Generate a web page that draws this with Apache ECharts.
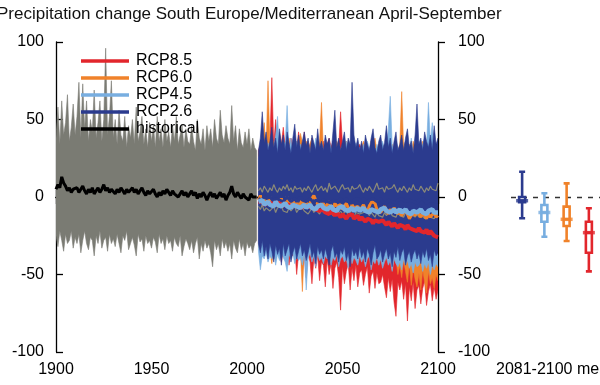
<!DOCTYPE html>
<html>
<head>
<meta charset="utf-8">
<script src="https://cdn.jsdelivr.net/npm/echarts@6/dist/echarts.min.js"></script>
<style>html,body{margin:0;padding:0;background:#fff}#c{width:600px;height:385px}</style>
</head>
<body>
<div id="c"></div>
<script>
// ---------- DATA ----------
const titleText = 'Precipitation change South Europe/Mediterranean April-September';
const xTicks = [1900, 1950, 2000, 2050, 2100];
const yTicks = [-100, -50, 0, 50, 100];
const histStart = 1900, histEnd = 2005, futStart = 2006, futEnd = 2100;

// historical ensemble envelope (max / min of models) and mean, 1900-2005
const histHi = [38,58,34,62,40,48,66,36,45,60, 40,52,74,38,73,44,62,36,50,42, 69,38,48,62,36,50,96,40,52,75,
  38,50,34,56,40,36,52,32,46,38, 50,34,58,36,42,52,34,44,32,48, 36,46,32,52,36,44,32,50,36,42,
  32,46,36,52,34,40,46,32,44,36, 34,46,36,30,50,38,34,44,30,46, 36,44,32,50,38,34,56,40,35,46,
  38,34,59,36,46,30,44,35,32,42, 34,44,30,38,32,30];
const histLo = [-25,-32,-22,-28,-35,-24,-30,-28,-22,-33, -26,-30,-24,-36,-28,-22,-30,-34,-26,-28,
  -38,-25,-30,-22,-33,-28,-26,-35,-24,-30, -27,-32,-24,-30,-36,-25,-28,-22,-34,-30,
  -26,-31,-38,-24,-29,-27,-35,-25,-30,-28, -33,-26,-29,-36,-24,-30,-27,-34,-25,-30,
  -28,-35,-26,-30,-32,-25,-38,-32,-27,-30, -34,-28,-36,-30,-26,-40,-30,-35,-28,-33,
  -30,-36,-45,-28,-34,-30,-38,-27,-33,-29, -35,-30,-40,-28,-33,-36,-27,-34,-30,-38,
  -29,-33,-31,-36,-30,-28];
const histMean = [5,8,6,13,9,7,4,6,3,5, 4,6,3,5,7,4,2,5,3,6, 2,4,6,3,5,8,4,6,3,5, 4,2,5,3,6,4,2,5,3,4,
  6,3,5,2,4,6,3,1,4,2, 3,5,2,0,3,1,4,2,5,3, 1,4,2,3,0,2,4,1,3,0, 2,4,1,3,-1,2,0,3,1,-2,
  1,3,0,2,-1,1,3,0,2,-2, 1,3,7,2,0,3,1,-1,2,0, 1,-2,2,0,1,0];

// scenario ensemble envelopes and means, 2006-2100
const rcp26Hi = [30,38,55,35, 42,30,36,45,32,38,28,44,34,40, 30,42,35,28,38,47,32,40,30,36, 42,33,38,28,40,35,30,44,32,36,
  30,40,34,38,28,42,56,32,38,30, 36,42,30,38,34,74,40,32,38,30, 36,28,40,34,30,38,44,32,28,36,
  40,30,35,46,32,38,28,36,42,30, 34,40,30,38,44,32,36,28,40,60, 34,38,30,42,36,32,40,30,46,34, 38];
const rcp26Lo = [-30,-36,-28,-38, -32,-40,-30,-35,-42,-31,-37,-33,-44,-30, -38,-34,-30,-42,-36,-32,-40,-35,-30,-38,
  -34,-41,-36,-30,-39,-35,-43,-32,-37,-34, -40,-33,-38,-44,-35,-31,-39,-36,-42,-34, -37,-32,-41,-36,-45,-33,-38,-35,-40,-32,
  -39,-35,-42,-33,-37,-44,-36,-31,-40,-38, -34,-42,-37,-33,-40,-36,-45,-35,-39,-32, -41,-36,-33,-44,-38,-35,-42,-37,-34,-40,
  -36,-43,-35,-39,-33,-41,-37,-45,-34,-38, -36];
const rcp45Hi = [25,30,28,32, 28,35,30,26,32,40,52,30,28,36, 34,59,30,38,28,32,36,30,34,28, 32,30,36,28,34,30,38,32,28,35,
  30,34,28,36,32,30,35,28,34,30, 33,28,36,30,34,40,30,35,28,32, 30,34,28,36,32,30,38,28,34,30,
  32,36,30,28,44,65,34,30,36,32, 30,34,28,36,32,30,38,28,34,32, 36,30,34,38,32,61,36,48,30,34, 32];
const rcp45Lo = [-35,-47,-38,-40, -36,-42,-38,-40,-35,-44,-37,-41,-36,-39, -42,-48,-37,-40,-36,-43,-38,-41,-39,-44,
  -37,-60,-40,-36,-42,-38,-45,-37,-41,-39, -43,-38,-40,-36,-44,-39,-41,-37,-45,-40, -38,-42,-40,-46,-37,-43,-39,-41,-44,-38,
  -42,-39,-45,-40,-38,-47,-41,-43,-39,-44, -40,-46,-42,-39,-44,-41,-48,-40,-43,-45, -42,-47,-40,-44,-41,-46,-43,-49,-42,-45,
  -44,-41,-48,-43,-46,-42,-50,-44,-47,-43, -45];
const rcp60Hi = [28,32,30,48, 30,75,34,28,36,32,30,42,34,30, 36,32,38,30,34,28,36,32,41,35, 32,36,30,34,38,30,34,32,36,61,
  30,34,32,36,30,34,28,36,32,30, 34,30,36,32,30,35,32,28,34,30, 32,36,30,34,28,36,32,38,30,34,
  30,34,32,28,36,30,34,32,36,30, 34,68,32,36,30,34,28,36,32,30, 34,30,36,32,28,34,30,36,32,30, 34];
const rcp60Lo = [-32,-36,-30,-37, -33,-38,-35,-43,-32,-40,-34,-37,-33,-36, -38,-44,-34,-37,-33,-40,-35,-38,-36,-61,
  -34,-45,-37,-33,-39,-35,-42,-34,-38,-36, -40,-35,-37,-34,-41,-36,-38,-34,-42,-37, -35,-39,-37,-43,-34,-40,-36,-38,-41,-35,
  -39,-36,-42,-37,-35,-44,-38,-40,-36,-41, -37,-43,-39,-36,-41,-38,-47,-37,-40,-50, -44,-52,-41,-48,-55,-43,-57,-46,-53,-58,
  -49,-60,-47,-55,-62,-48,-56,-52,-59,-50, -54];
const rcp85Hi = [30,34,32,38, 34,32,36,77,34,50,32,38,34,45, 32,36,30,38,34,36,30,42,34,32, 42,30,36,32,38,30,34,36,30,34,
  36,30,34,38,32,36,30,34,32,55, 34,30,36,32,30,34,28,32,30,34, 30,34,28,32,30,26,32,28,30,34,
  28,32,30,26,30,28,32,30,26,30, 28,30,26,32,28,30,26,28,32,26, 28,30,26,28,32,26,28,30,26,28, 26];
const rcp85Lo = [-30,-34,-28,-36, -32,-38,-30,-35,-40,-33,-37,-31,-42,-34, -36,-32,-44,-35,-38,-33,-50,-37,-34,-48,
  -38,-52,-36,-42,-56,-40,-46,-38,-54,-42, -44,-58,-40,-50,-43,-59,-46,-42,-52,-73, -45,-56,-48,-43,-60,-46,-54,-44,-58,-49,
  -47,-57,-50,-45,-62,-51,-48,-59,-49,-56, -55,-50,-58,-65,-52,-61,-53,-68,-77,-55, -60,-54,-66,-56,-80,-58,-67,-55,-72,-60,
  -57,-69,-59,-54,-70,-61,-56,-67,-58,-66, -60];
const rcp26Mean = [-1,0,-2,1, -1,-2,0,-1,-3,-1,0,-2,-1,-3, -2,0,-1,-3,-2,-1,-3,-2,0,-2, -1,-3,-2,-1,-2,-4,-2,-1,-3,-2,
  -2,-1,-3,-2,-4,-2,-1,-3,-2,-1, -3,-2,-1,-3,-2,-4,-2,-3,-1,-2, -3,-1,-2,-4,-2,-3,-1,-2,-3,-2,
  -1,-3,-2,-4,-2,-1,-3,-2,-4,-2, -3,-1,-2,-3,-4,-2,-1,-3,-2,-4, -2,-3,-1,-2,-4,-3,-2,-1,-3,-2, -3];
const rcp45Mean = [-3,-4,-2,-5, -4,-3,-5,-4,-6,-3,-5,-4,-6,-5, -4,-6,-5,-7,-5,-4,-6,-5,-7,-6, -5,-7,-6,-5,-7,-6,-8,-6,-7,-5,
  -7,-6,-8,-7,-6,-8,-7,-9,-7,-8, -6,-8,-7,-9,-8,-7,-9,-8,-7,-9, -8,-7,-9,-8,-10,-8,-7,-9,-8,-10,
  -8,-9,-7,-9,-8,-10,-9,-8,-10,-9, -8,-10,-9,-8,-10,-9,-11,-9,-8,-10, -9,-8,-10,-9,-11,-9,-10,-8,-10,-9, -10];
const rcp60Mean = [-2,1,-3,-1, -4,-2,0,-5,-3,-6,-2,-4,-1,-5, -3,0,-4,-6,-2,-5,-3,-7,-4,-2, -5,-3,-6,-4,-1,1,-2,-5,-3,-6,
  -4,-7,-5,-3,-6,-8,-4,-6,-7,-5, -8,-6,-4,-7,-9,-5,-7,-8,-6,-9, -7,-5,-8,-10,-6,-3,-2,-4,-8,-9,
  -10,-8,-6,-9,-11,-8,-10,-7,-9,-11, -9,-12,-10,-8,-11,-14,-13,-10,-12,-9, -11,-13,-10,-12,-14,-11,-13,-12,-10,-13, -12];
const rcp85Mean = [-3,-4,-3,-5, -4,-4,-5,-4,-6,-4,-5,-4,-6,-5, -5,-6,-5,-7,-5,-5,-6,-6,-7,-6, -6,-7,-6,-6,-7,-7,-8,-8,-9,-9,
  -8,-10,-9,-11,-9,-10,-12,-10,-11,-13, -11,-12,-14,-12,-13,-11,-14,-13,-12,-15, -13,-14,-16,-14,-13,-15,-17,-15,-14,-16,
  -17,-15,-16,-18,-16,-17,-19,-17,-18,-20, -18,-17,-19,-21,-18,-20,-19,-21,-20,-22, -20,-22,-21,-23,-21,-24,-22,-23,-25,-24, -26];
// thin grey reference lines in the projection period
const futGreyUpper = [4,6,3,7, 5,3,6,4,8,5,3,6,4,7, 5,8,4,6,3,7,5,4,6,3, 6,4,7,5,3,6,8,4,5,7, 4,6,3,9,5,4,7,5,3,6,
  8,5,4,6,3,7,5,4,6,8, 5,3,6,4,7,5,3,6,9,5, 4,6,3,7,5,4,6,8,5,3, 6,4,7,5,3,6,4,8,5,6, 4,7,5,3,6,4,7,5,6,4, 9];
const futGreyLower = [-6,-8,-5,-9, -7,-6,-9,-8,-6,-10,-7,-8,-6,-9, -8,-10,-7,-9,-8,-6,-10,-8,-9,-7, -9,-8,-11,-9,-7,-10,-8,-9,-11,-8,
  -10,-9,-11,-8,-10,-12,-9,-10,-11,-9, -11,-10,-9,-12,-10,-11,-13,-10,-9,-11, -12,-10,-11,-9,-12,-10,-11,-13,-10,-12,
  -11,-13,-10,-12,-11,-9,-12,-11,-13,-10, -12,-11,-13,-10,-12,-14,-11,-12,-13,-11, -13,-11,-12,-14,-12,-11,-13,-12,-14,-12, -13];

// 2081-2100 mean change: [min, Q1, median, Q3, max]
const boxScenarios = ['RCP2.6', 'RCP4.5', 'RCP6.0', 'RCP8.5'];
const boxStats = [
  [-13.7, -3.4, -2.4, 0, 16.3],
  [-25.6, -16, -10, -5.2, 2.4],
  [-28.4, -18.7, -14.4, -6.2, 8.8],
  [-48, -36, -23, -16, -7.3]
];

// ---------- STYLE ----------
const C = {
  hist: '#7a7b73', black: '#000000',
  'RCP2.6': '#2b3b8e', 'RCP4.5': '#78aee0', 'RCP6.0': '#f0822a', 'RCP8.5': '#e2262c'
};
const FONT = 'Liberation Sans, Arial, Helvetica, sans-serif';

function range(a, b) { const r = []; for (let y = a; y <= b; y++) r.push(y); return r; }
const yearsHist = range(histStart, histEnd);
const yearsFut = range(futStart, futEnd);

function band(name, yrs, lo, hi, color, z) {
  return {
    type: 'custom', name: name, xAxisIndex: 0, yAxisIndex: 0, z: z, silent: true, clip: true,
    data: yrs.map((y, i) => [y, lo[i], hi[i]]),
    encode: { x: 0, y: [1, 2] },
    renderItem: function (params, api) {
      if (params.dataIndex !== 0) return null;
      const pts = [];
      for (let i = 0; i < yrs.length; i++) pts.push(api.coord([yrs[i], hi[i]]));
      for (let i = yrs.length - 1; i >= 0; i--) pts.push(api.coord([yrs[i], lo[i]]));
      return { type: 'polygon', shape: { points: pts }, style: { fill: color, stroke: color, lineWidth: 0.6 } };
    }
  };
}
function line(name, yrs, vals, color, width, z) {
  return {
    type: 'line', name: name, xAxisIndex: 0, yAxisIndex: 0, z: z, silent: true,
    data: yrs.map((y, i) => [y, vals[i]]), showSymbol: false, symbol: 'none',
    lineStyle: { color: color, width: width }, itemStyle: { color: color }, animation: false
  };
}

const axisCommon = {
  min: yTicks[0], max: yTicks[yTicks.length - 1], interval: 50,
  axisLine: { show: true, lineStyle: { color: '#000', width: 1.3 } },
  splitLine: { show: false }
};

const series = [
  band('hist models', yearsHist, histLo, histHi, C.hist, 1),
  band('rcp85 models', yearsFut, rcp85Lo, rcp85Hi, C['RCP8.5'], 2),
  band('rcp60 models', yearsFut, rcp60Lo, rcp60Hi, C['RCP6.0'], 3),
  band('rcp45 models', yearsFut, rcp45Lo, rcp45Hi, C['RCP4.5'], 4),
  band('rcp26 models', yearsFut, rcp26Lo, rcp26Hi, C['RCP2.6'], 5),
  line('grey upper', yearsFut, futGreyUpper, '#8c8a78', 1.2, 6),
  line('grey lower', yearsFut, futGreyLower, '#8c8a78', 1.2, 6),
  line('RCP6.0', yearsFut, rcp60Mean, C['RCP6.0'], 3, 7),
  line('RCP2.6', yearsFut, rcp26Mean, C['RCP2.6'], 3, 7),
  line('RCP8.5', yearsFut, rcp85Mean, C['RCP8.5'], 4, 8),
  line('RCP4.5', yearsFut, rcp45Mean, C['RCP4.5'], 4.5, 9),
  line('historical', yearsHist, histMean, C.black, 3, 9),
  {
    type: 'boxplot', name: 'box', xAxisIndex: 2, yAxisIndex: 2, silent: true, boxWidth: [6, 6], z: 5,
    data: boxStats.map((s, i) => ({
      value: s,
      itemStyle: { color: '#ffffff', borderColor: C[boxScenarios[i]], borderWidth: 2.6 }
    }))
  },
  {
    type: 'scatter', name: 'medians', xAxisIndex: 2, yAxisIndex: 2, silent: true, z: 6,
    symbol: 'rect', symbolSize: [12, 3.5],
    data: boxStats.map((s, i) => ({ value: [i, s[2]], itemStyle: { color: C[boxScenarios[i]] } })),
    markLine: {
      silent: true, symbol: 'none', label: { show: false }, z: 1,
      lineStyle: { type: [5, 6], color: '#333', width: 1.3 },
      data: [{ yAxis: 0 }]
    }
  }
];

const option = {
  animation: false,
  backgroundColor: '#ffffff',
  title: {
    text: titleText, left: -3, top: 6, padding: 0,
    textStyle: { fontSize: 17, fontWeight: 'normal', color: '#111', fontFamily: FONT }
  },
  legend: {
    orient: 'vertical', left: 76, top: 48, itemWidth: 48, itemHeight: 3.5, itemGap: 1,
    icon: 'rect', selectedMode: false,
    textStyle: { fontSize: 16, color: '#000', fontFamily: FONT, padding: [0, 0, 0, 2] },
    data: ['RCP8.5', 'RCP6.0', 'RCP4.5', 'RCP2.6', 'historical']
  },
  grid: [
    { left: 56, top: 42, width: 382, height: 310 },
    { left: 511, top: 42, width: 95, height: 310 }
  ],
  xAxis: [
    {
      type: 'value', gridIndex: 0, position: 'bottom', min: xTicks[0], max: xTicks[xTicks.length - 1], interval: 50,
      axisLine: { lineStyle: { color: '#000', width: 1.3 } },
      axisTick: { inside: true, length: 7, lineStyle: { color: '#000', width: 1.3 } },
      axisLabel: { fontSize: 16, color: '#000', margin: 10, fontFamily: FONT, showMinLabel: true, showMaxLabel: true,
        formatter: function (v) { return String(v); } },
      splitLine: { show: false }
    },
    {
      type: 'value', gridIndex: 0, position: 'top', min: xTicks[0], max: xTicks[xTicks.length - 1], interval: 50,
      axisLine: { lineStyle: { color: '#000', width: 1.3 } },
      axisTick: { inside: true, length: 7, lineStyle: { color: '#000', width: 1.3 } },
      axisLabel: { show: false }, splitLine: { show: false }
    },
    { type: 'category', gridIndex: 1, data: boxScenarios, show: false }
  ],
  yAxis: [
    Object.assign({}, axisCommon, {
      type: 'value', gridIndex: 0, position: 'left',
      axisTick: { inside: true, length: 7, lineStyle: { color: '#000', width: 1.3 } },
      axisLabel: { fontSize: 16, color: '#000', margin: 12, fontFamily: FONT, showMinLabel: true, showMaxLabel: true }
    }),
    Object.assign({}, axisCommon, {
      type: 'value', gridIndex: 0, position: 'right',
      axisTick: { inside: false, length: 7, lineStyle: { color: '#000', width: 1.3 } },
      axisLabel: { fontSize: 16, color: '#000', margin: 20, fontFamily: FONT, showMinLabel: true, showMaxLabel: true }
    }),
    { type: 'value', gridIndex: 1, min: yTicks[0], max: yTicks[yTicks.length - 1], show: false }
  ],
  graphic: [
    { type: 'text', left: 496, top: 362, silent: true,
      style: { text: '2081-2100 mean', font: '16px ' + FONT, fill: '#000' } }
  ],
  series: series
};

const chart = echarts.init(document.getElementById('c'), null, { renderer: 'canvas' });
chart.setOption(option);
</script>
</body>
</html>
